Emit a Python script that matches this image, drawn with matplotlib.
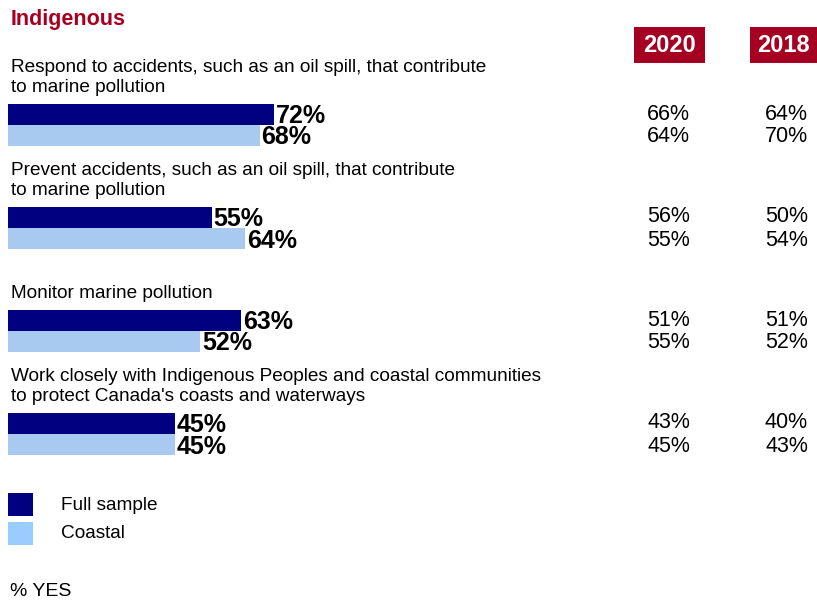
import matplotlib
matplotlib.use("Agg")
import matplotlib.pyplot as plt
from matplotlib.patches import Rectangle

plt.rcParams['font.family'] = ['Liberation Sans', 'DejaVu Sans']

# data
questions = [
    "Respond to accidents, such as an oil spill, that contribute\nto marine pollution",
    "Prevent accidents, such as an oil spill, that contribute\nto marine pollution",
    "Monitor marine pollution",
    "Work closely with Indigenous Peoples and coastal communities\nto protect Canada's coasts and waterways",
]
full_sample = [72, 55, 63, 45]
coastal = [68, 64, 52, 45]
full_2020 = [66, 56, 51, 43]
coastal_2020 = [64, 55, 55, 45]
full_2018 = [64, 50, 51, 40]
coastal_2018 = [70, 54, 52, 43]
years = ["2020", "2018"]
series_names = ["Full sample", "Coastal"]

navy = "#000080"
light = "#A8CAF0"
legend_light = "#99CCFF"
red = "#A50021"

W, H = 817, 604
X0 = 8        # pixel where 0% starts
SCALE = 3.7   # pixels per percent


def xp(px):
    return (px - X0) / SCALE


fig = plt.figure(figsize=(W / 100, H / 100), dpi=100)
ax = fig.add_axes([0, 0, 1, 1])
ax.set_xlim(xp(0), xp(W))
ax.set_ylim(H, 0)
ax.axis("off")

bar_h = 21
for i, q in enumerate(questions):
    yc = 114.5 + 103 * i
    y_full = yc
    y_coast = yc + bar_h
    ax.barh(y_full, full_sample[i], height=bar_h, color=navy)
    ax.barh(y_coast, coastal[i], height=bar_h, color=light)
    ax.text(full_sample[i] + 0.5, y_full + 8.5, f"{full_sample[i]}%", fontsize=18,
            fontweight="bold", va="baseline", ha="left")
    ax.text(coastal[i] + 0.5, y_coast + 9, f"{coastal[i]}%", fontsize=18,
            fontweight="bold", va="baseline", ha="left")
    ax.text(xp(11), yc - bar_h / 2 - 12, q, fontsize=13.7, va="baseline", ha="left",
            linespacing=1.2)
    # year columns
    for col_px, vals in ((690, (full_2020, coastal_2020)), (808, (full_2018, coastal_2018))):
        ax.text(xp(col_px), y_full + 5, f"{vals[0][i]}%", fontsize=15.5, va="baseline",
                ha="right")
        ax.text(xp(col_px), y_coast + 7, f"{vals[1][i]}%", fontsize=15.5, va="baseline",
                ha="right")

# year header boxes
for yr, (bx0, bx1) in zip(years, [(634, 705), (750, 817)]):
    ax.add_patch(Rectangle((xp(bx0), 27), xp(bx1) - xp(bx0), 36, color=red, lw=0))
    ax.text((xp(bx0) + xp(bx1)) / 2, 46, yr, color="white", fontsize=17,
            fontweight="bold", ha="center", va="center")

ax.text(xp(11), 19, "Indigenous", color=red, fontsize=15.5, fontweight="bold",
        ha="left", va="center")

# legend
for j, (name, c) in enumerate(zip(series_names, [navy, legend_light])):
    ty = 493 + 29 * j
    ax.add_patch(Rectangle((xp(8), ty), xp(33) - xp(8), 23, color=c, lw=0))
    ax.text(xp(61), ty + 12, name, fontsize=13.7, ha="left", va="center")

ax.text(xp(10), 591, "% YES", fontsize=14, ha="left", va="center")

fig.savefig("out.png", dpi=100)
